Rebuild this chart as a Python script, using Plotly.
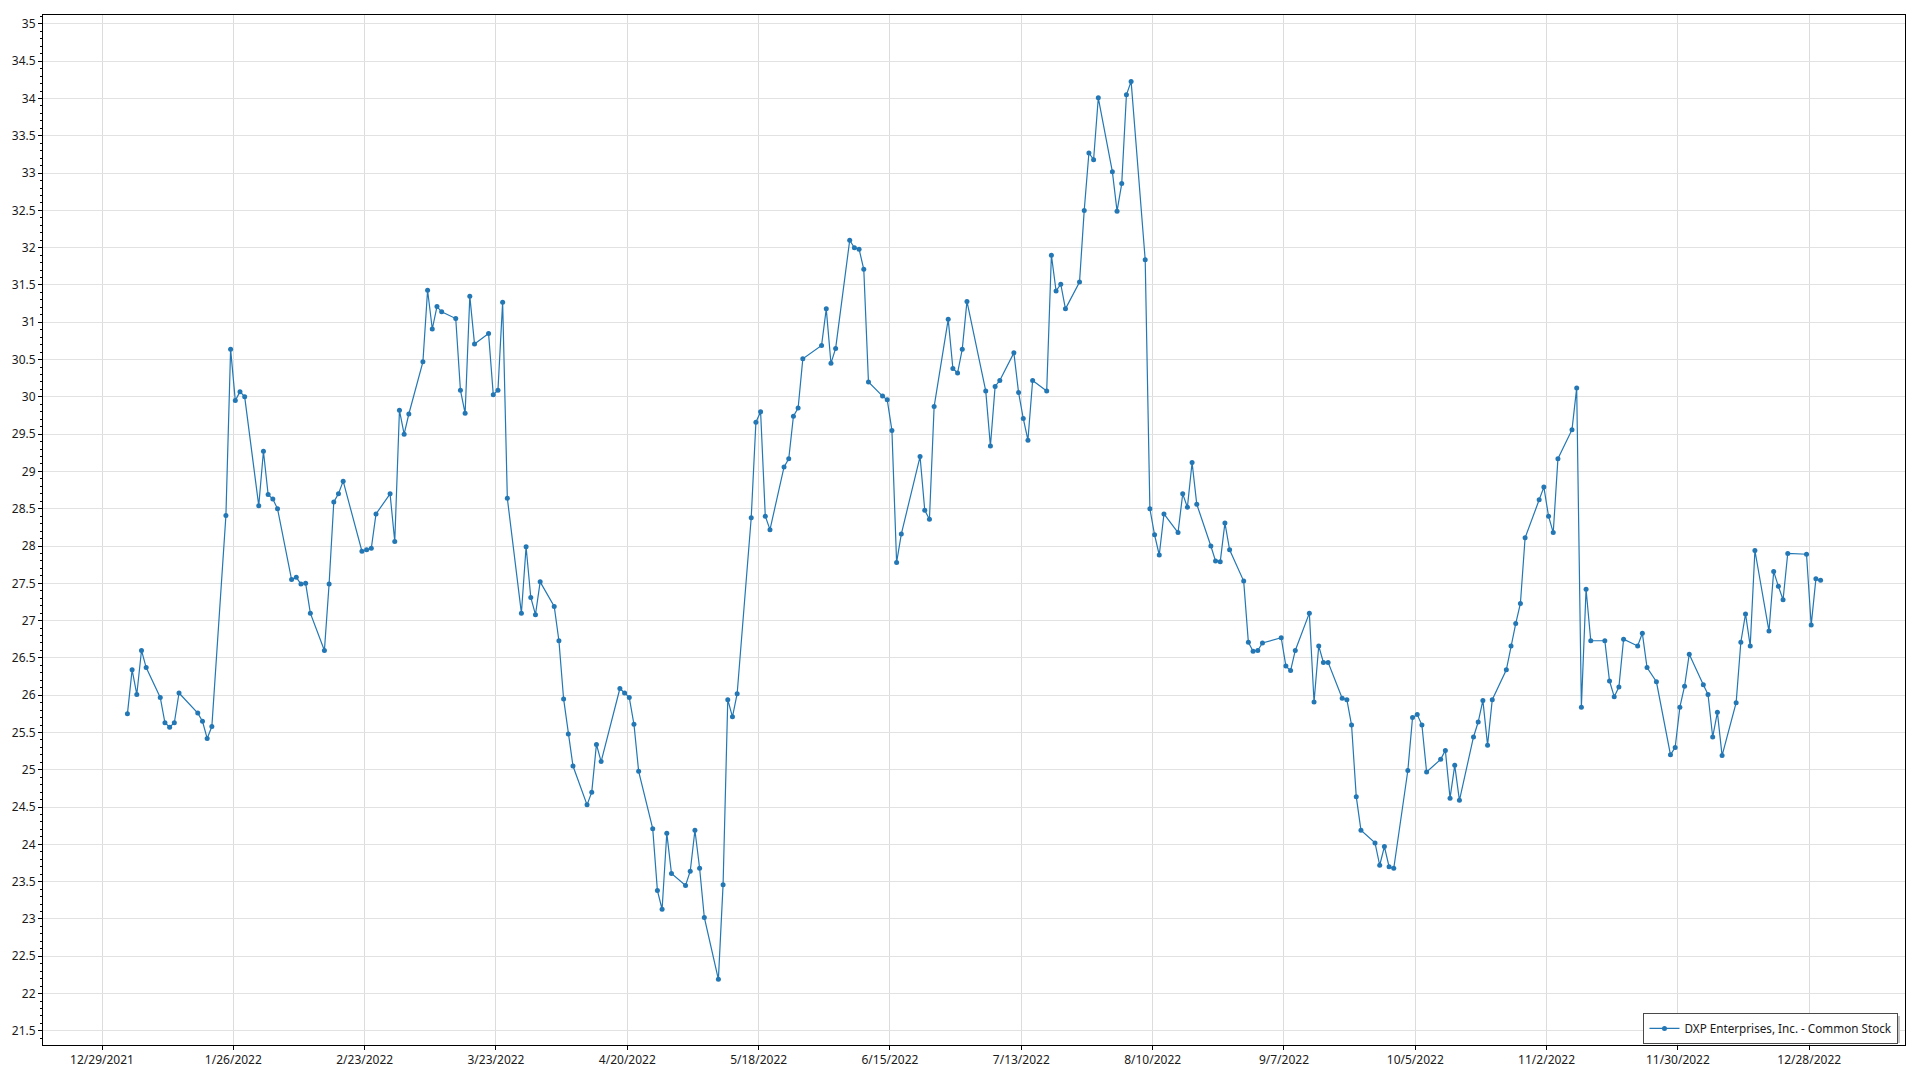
import plotly.graph_objects as go
import pandas as pd

series_name = "DXP Enterprises, Inc. - Common Stock"

trade_dates = [
    "2022-01-03", "2022-01-04", "2022-01-05", "2022-01-06", "2022-01-07", "2022-01-10", "2022-01-11", "2022-01-12",
    "2022-01-13", "2022-01-14", "2022-01-18", "2022-01-19", "2022-01-20", "2022-01-21", "2022-01-24", "2022-01-25",
    "2022-01-26", "2022-01-27", "2022-01-28", "2022-01-31",
    "2022-02-01", "2022-02-02", "2022-02-03", "2022-02-04", "2022-02-07", "2022-02-08", "2022-02-09", "2022-02-10",
    "2022-02-11", "2022-02-14", "2022-02-15", "2022-02-16", "2022-02-17", "2022-02-18", "2022-02-22", "2022-02-23",
    "2022-02-24", "2022-02-25", "2022-02-28",
    "2022-03-01", "2022-03-02", "2022-03-03", "2022-03-04", "2022-03-07", "2022-03-08", "2022-03-09", "2022-03-10",
    "2022-03-11", "2022-03-14", "2022-03-15", "2022-03-16", "2022-03-17", "2022-03-18", "2022-03-21", "2022-03-22",
    "2022-03-23", "2022-03-24", "2022-03-25", "2022-03-28", "2022-03-29", "2022-03-30", "2022-03-31",
    "2022-04-01", "2022-04-04", "2022-04-05", "2022-04-06", "2022-04-07", "2022-04-08", "2022-04-11", "2022-04-12",
    "2022-04-13", "2022-04-14", "2022-04-18", "2022-04-19", "2022-04-20", "2022-04-21", "2022-04-22", "2022-04-25",
    "2022-04-26", "2022-04-27", "2022-04-28", "2022-04-29",
    "2022-05-02", "2022-05-03", "2022-05-04", "2022-05-05", "2022-05-06", "2022-05-09", "2022-05-10", "2022-05-11",
    "2022-05-12", "2022-05-13", "2022-05-16", "2022-05-17", "2022-05-18", "2022-05-19", "2022-05-20", "2022-05-23",
    "2022-05-24", "2022-05-25", "2022-05-26", "2022-05-27", "2022-05-31",
    "2022-06-01", "2022-06-02", "2022-06-03", "2022-06-06", "2022-06-07", "2022-06-08", "2022-06-09", "2022-06-10",
    "2022-06-13", "2022-06-14", "2022-06-15", "2022-06-16", "2022-06-17", "2022-06-21", "2022-06-22", "2022-06-23",
    "2022-06-24", "2022-06-27", "2022-06-28", "2022-06-29", "2022-06-30",
    "2022-07-01", "2022-07-05", "2022-07-06", "2022-07-07", "2022-07-08", "2022-07-11", "2022-07-12", "2022-07-13",
    "2022-07-14", "2022-07-15", "2022-07-18", "2022-07-19", "2022-07-20", "2022-07-21", "2022-07-22", "2022-07-25",
    "2022-07-26", "2022-07-27", "2022-07-28", "2022-07-29",
    "2022-08-01", "2022-08-02", "2022-08-03", "2022-08-04", "2022-08-05", "2022-08-08", "2022-08-09", "2022-08-10",
    "2022-08-11", "2022-08-12", "2022-08-15", "2022-08-16", "2022-08-17", "2022-08-18", "2022-08-19", "2022-08-22",
    "2022-08-23", "2022-08-24", "2022-08-25", "2022-08-26", "2022-08-29", "2022-08-30", "2022-08-31",
    "2022-09-01", "2022-09-02", "2022-09-06", "2022-09-07", "2022-09-08", "2022-09-09", "2022-09-12", "2022-09-13",
    "2022-09-14", "2022-09-15", "2022-09-16", "2022-09-19", "2022-09-20", "2022-09-21", "2022-09-22", "2022-09-23",
    "2022-09-26", "2022-09-27", "2022-09-28", "2022-09-29", "2022-09-30",
    "2022-10-03", "2022-10-04", "2022-10-05", "2022-10-06", "2022-10-07", "2022-10-10", "2022-10-11", "2022-10-12",
    "2022-10-13", "2022-10-14", "2022-10-17", "2022-10-18", "2022-10-19", "2022-10-20", "2022-10-21", "2022-10-24",
    "2022-10-25", "2022-10-26", "2022-10-27", "2022-10-28", "2022-10-31",
    "2022-11-01", "2022-11-02", "2022-11-03", "2022-11-04", "2022-11-07", "2022-11-08", "2022-11-09", "2022-11-10",
    "2022-11-11", "2022-11-14", "2022-11-15", "2022-11-16", "2022-11-17", "2022-11-18", "2022-11-21", "2022-11-22",
    "2022-11-23", "2022-11-25", "2022-11-28", "2022-11-29", "2022-11-30",
    "2022-12-01", "2022-12-02", "2022-12-05", "2022-12-06", "2022-12-07", "2022-12-08", "2022-12-09", "2022-12-12",
    "2022-12-13", "2022-12-14", "2022-12-15", "2022-12-16", "2022-12-19", "2022-12-20", "2022-12-21", "2022-12-22",
    "2022-12-23", "2022-12-27", "2022-12-28", "2022-12-29", "2022-12-30",
]

close_prices = [
    # Jan
    25.75, 26.34, 26.01, 26.60, 26.37, 25.97, 25.63, 25.57, 25.63, 26.03, 25.76, 25.65, 25.42, 25.58, 28.41, 30.64,
    29.95, 30.07, 30.00, 28.54,
    # Feb
    29.27, 28.69, 28.63, 28.50, 27.55, 27.58, 27.49, 27.50, 27.10, 26.60, 27.49, 28.59, 28.70, 28.87, 27.93, 27.95,
    27.97, 28.43, 28.70,
    # Mar
    28.06, 29.82, 29.50, 29.77, 30.47, 31.43, 30.91, 31.21, 31.14, 31.05, 30.09, 29.78, 31.35, 30.71, 30.85, 30.03,
    30.09, 31.27, 28.64, 27.10, 27.99, 27.31, 27.08,
    # Apr
    27.52, 27.19, 26.73, 25.95, 25.48, 25.05, 24.53, 24.70, 25.34, 25.11, 26.09, 26.03, 25.97, 25.61, 24.98, 24.21,
    23.38, 23.13, 24.15, 23.61,
    # May
    23.45, 23.64, 24.19, 23.68, 23.02, 22.19, 23.46, 25.94, 25.71, 26.02, 28.38, 29.66, 29.80, 28.40, 28.22, 29.06,
    29.17, 29.74, 29.85, 30.51, 30.69,
    # Jun
    31.18, 30.45, 30.65, 32.10, 32.00, 31.98, 31.71, 30.20, 30.01, 29.96, 29.55, 27.78, 28.16, 29.20, 28.48, 28.36,
    29.87, 31.04, 30.38, 30.32, 30.64,
    # Jul
    31.28, 30.08, 29.34, 30.14, 30.22, 30.59, 30.06, 29.71, 29.42, 30.22, 30.08, 31.90, 31.42, 31.51, 31.18, 31.54,
    32.50, 33.27, 33.18, 34.01,
    # Aug
    33.02, 32.49, 32.86, 34.05, 34.23, 31.84, 28.50, 28.15, 27.88, 28.43, 28.18, 28.70, 28.52, 29.12, 28.56, 28.00,
    27.80, 27.79, 28.31, 27.95, 27.53, 26.71, 26.59,
    # Sep
    26.60, 26.70, 26.77, 26.39, 26.33, 26.60, 27.10, 25.91, 26.66, 26.44, 26.44, 25.96, 25.94, 25.60, 24.64, 24.19,
    24.02, 23.72, 23.97, 23.70, 23.68,
    # Oct
    24.99, 25.70, 25.74, 25.60, 24.97, 25.14, 25.26, 24.62, 25.06, 24.59, 25.44, 25.64, 25.93, 25.33, 25.94, 26.34,
    26.66, 26.96, 27.23, 28.11, 28.62,
    # Nov
    28.79, 28.40, 28.18, 29.17, 29.56, 30.12, 25.84, 27.42, 26.73, 26.73, 26.19, 25.98, 26.11, 26.75, 26.66, 26.83,
    26.37, 26.18, 25.20, 25.30, 25.84,
    # Dec
    26.12, 26.55, 26.14, 26.01, 25.44, 25.77, 25.19, 25.90, 26.71, 27.09, 26.66, 27.94, 26.86, 27.66, 27.46, 27.28,
    27.90, 27.89, 26.94, 27.56, 27.54,
]

tick_labels = ["12/29/2021", "1/26/2022", "2/23/2022", "3/23/2022", "4/20/2022", "5/18/2022", "6/15/2022",
               "7/13/2022", "8/10/2022", "9/7/2022", "10/5/2022", "11/2/2022", "11/30/2022", "12/28/2022"]

x_range = ["2021-12-16 00:00", "2023-01-17 00:00"]
y_range = [21.31, 35.12]

tick_vals = [pd.to_datetime(t, format="%m/%d/%Y") - pd.Timedelta(hours=10) for t in tick_labels]

FONT = "Noto Sans, Segoe UI, Open Sans, sans-serif"
LINE_COLOR = "#2277b4"

W, H = 1920, 1080
M_L, M_R, M_T, M_B = 42, 15, 15, 32
PW, PH = W - M_L - M_R, H - M_T - M_B


def px_to_paper_x(px):
    return (px - M_L) / PW


def px_to_paper_y(py):
    return (H - M_B - py) / PH


fig = go.Figure()
fig.add_trace(go.Scatter(
    x=pd.to_datetime(trade_dates),
    y=close_prices,
    mode="lines+markers",
    name=series_name,
    line=dict(color=LINE_COLOR, width=1.2),
    marker=dict(color=LINE_COLOR, size=5),
    showlegend=True,
))

# soft drop shadow behind the legend box (legend is drawn on top of it)
fig.add_shape(
    type="rect", xref="paper", yref="paper", layer="above",
    x0=px_to_paper_x(1647), x1=px_to_paper_x(1900),
    y0=px_to_paper_y(1046), y1=px_to_paper_y(1019),
    fillcolor="#c4c4c4", line=dict(width=0),
)

fig.update_layout(
    width=W, height=H,
    margin=dict(l=M_L, r=M_R, t=M_T, b=M_B),
    paper_bgcolor="white",
    plot_bgcolor="white",
    font=dict(family=FONT, size=12, color="#1a1a1a"),
    showlegend=True,
    legend=dict(
        x=0.9965, y=0.001, xanchor="right", yanchor="bottom",
        bgcolor="white", bordercolor="#4a4a4a", borderwidth=1,
        font=dict(family=FONT, size=11.7, color="#1a1a1a"),
        itemwidth=30,
        tracegroupgap=0,
    ),
    xaxis=dict(
        type="date",
        range=x_range,
        tickmode="array",
        tickvals=tick_vals,
        ticktext=tick_labels,
        ticks="outside", ticklen=4, tickcolor="black", tickwidth=1,
        showline=True, linecolor="black", linewidth=1, mirror=True,
        showgrid=True, gridcolor="#dcdcdc", gridwidth=1,
        zeroline=False,
        tickfont=dict(family=FONT, size=12, color="#1a1a1a"),
    ),
    yaxis=dict(
        range=y_range,
        tick0=0, dtick=0.5,
        ticks="outside", ticklen=4, tickcolor="black", tickwidth=1,
        minor=dict(dtick=0.1, ticks="outside", ticklen=2, tickcolor="black", showgrid=False),
        showline=True, linecolor="black", linewidth=1, mirror=True,
        showgrid=True, gridcolor="#e2e2e2", gridwidth=1,
        zeroline=False,
        tickfont=dict(family=FONT, size=12, color="#1a1a1a"),
    ),
)

fig.write_html("out.html", config={"displayModeBar": False},
               post_script="document.body.style.margin='0';document.body.style.overflow='hidden';")
